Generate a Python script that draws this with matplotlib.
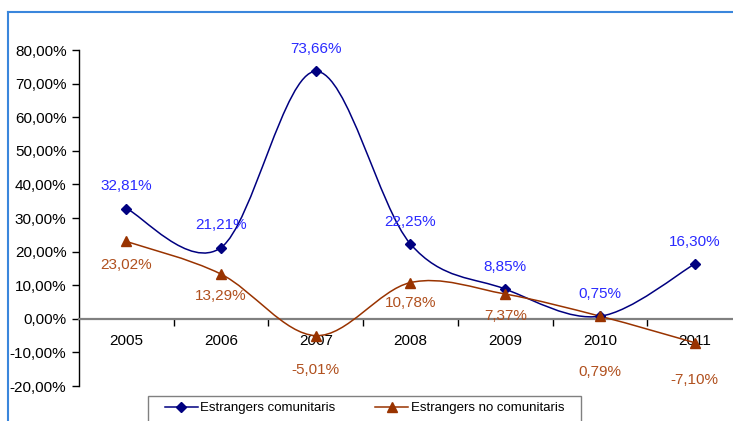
import numpy as np
import matplotlib.pyplot as plt
from matplotlib.path import Path
from matplotlib.patches import PathPatch, Rectangle
from matplotlib.lines import Line2D

plt.rcParams['font.family'] = ['Liberation Sans', 'DejaVu Sans']

years = ['2005', '2006', '2007', '2008', '2009', '2010', '2011']
comunitaris = [32.81, 21.21, 73.66, 22.25, 8.85, 0.75, 16.30]
no_comunitaris = [23.02, 13.29, -5.01, 10.78, 7.37, 0.79, -7.10]
yticks = [-20, -10, 0, 10, 20, 30, 40, 50, 60, 70, 80]

# label offsets in points (vertical), per point
off_com = [16, 16, 16, 16, 16, 16, 16]
off_nocom = [-17, -16, -25, -15, -16, -40, -27]

BLUE = '#000080'
BLUE_TXT = '#2a2aff'
ORANGE = '#993300'
ORANGE_TXT = '#b0501e'


def smooth_path(x, y):
    # Excel-like smoothed line (Catmull-Rom as cubic Bezier)
    pts = np.column_stack([x, y]).astype(float)
    ext = np.vstack([pts[0], pts, pts[-1]])
    verts = [pts[0]]
    codes = [Path.MOVETO]
    for i in range(1, len(ext) - 2):
        p0, p1, p2, p3 = ext[i - 1], ext[i], ext[i + 1], ext[i + 2]
        c1 = p1 + (p2 - p0) / 6.0
        c2 = p2 - (p3 - p1) / 6.0
        verts += [c1, c2, p2]
        codes += [Path.CURVE4] * 3
    return Path(verts, codes)


fig = plt.figure(figsize=(7.33, 4.21), dpi=100)
ax = fig.add_axes([79 / 733, 35 / 421, (742 - 79) / 733, 336 / 421])

x = np.arange(1, len(years) + 1)

for vals, col, mk, ms, tcol, offs in [
        (comunitaris, BLUE, 'D', 5, BLUE_TXT, off_com),
        (no_comunitaris, ORANGE, '^', 6.5, ORANGE_TXT, off_nocom)]:
    ax.add_patch(PathPatch(smooth_path(x, vals), facecolor='none',
                           edgecolor=col, lw=1.1, zorder=3))
    ax.plot(x, vals, linestyle='none', marker=mk, ms=ms, color=col, zorder=4)
    for xi, v, o in zip(x, vals, offs):
        ax.annotate(f'{v:.2f}%'.replace('.', ','), (xi, v),
                    xytext=(0, o), textcoords='offset points',
                    ha='center', va='center', color=tcol, fontsize=11)

ax.set_xlim(0.5, len(years) + 0.5)
ax.set_ylim(-20, 80)

ax.spines['top'].set_visible(False)
ax.spines['right'].set_visible(False)
ax.spines['left'].set_color('black')
ax.spines['left'].set_linewidth(1.0)
ax.spines['bottom'].set_position(('data', 0))
ax.spines['bottom'].set_color('#808080')
ax.spines['bottom'].set_linewidth(1.6)

ax.set_yticks(yticks)
ax.set_yticklabels([f'{t:.2f}%'.replace('.', ',') for t in yticks], fontsize=11)
ax.tick_params(axis='y', direction='out', length=5, width=1, pad=4)

ax.set_xticks(np.arange(1.5, len(years), 1.0))
ax.set_xticklabels([])
ax.tick_params(axis='x', which='major', direction='out', length=5, width=1,
               color='black')
ax.set_xticks(x, minor=True)
ax.set_xticklabels(years, minor=True, fontsize=11)
ax.tick_params(axis='x', which='minor', length=0, pad=11)

# legend
handles = [Line2D([], [], color=BLUE, marker='D', ms=5, lw=1.1),
           Line2D([], [], color=ORANGE, marker='^', ms=6.5, lw=1.1)]
fig.legend(handles, ['Estrangers comunitaris', 'Estrangers no comunitaris'],
           loc='center left', bbox_to_anchor=(158 / 733, 1 - 408 / 421),
           ncol=2, frameon=False, fontsize=9.5, handlelength=2.5,
           handletextpad=0.2, columnspacing=3.0, borderpad=0)
fig.add_artist(Rectangle((148 / 733, -0.05), (581 - 148) / 733,
                         1 - 396 / 421 + 0.05, transform=fig.transFigure,
                         facecolor='none', edgecolor='#808080', lw=1.0))

# frame lines
fig.add_artist(Line2D([8 / 733, 1], [1 - 12 / 421, 1 - 12 / 421],
                      transform=fig.transFigure, color='#3a86dc', lw=1.5))
fig.add_artist(Line2D([8 / 733, 8 / 733], [0, 1 - 12 / 421],
                      transform=fig.transFigure, color='#3a86dc', lw=1.5))

fig.savefig('out.png', dpi=100)
